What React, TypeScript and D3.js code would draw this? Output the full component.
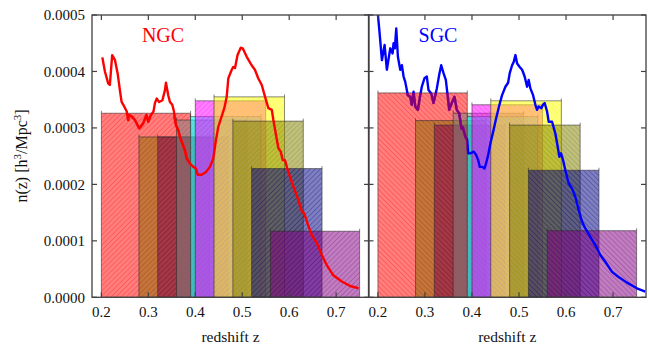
import React from "react";
import * as d3 from "d3";

// redshift bins (overlapping)
const binLo = [0.2, 0.28, 0.32, 0.36, 0.39, 0.4, 0.44, 0.48, 0.52, 0.56];
const binHi = [0.39, 0.43, 0.47, 0.51, 0.54, 0.55, 0.59, 0.63, 0.67, 0.75];
const binColors = ["#ff0000", "#8a6a00", "#80004d", "#808080", "#00ffff", "#ff00ff", "#ffff00", "#808000", "#000080", "#800080"];
// bar heights in units of 1e-4
const ngcBars = [3.26, 2.84, 2.84, 3.14, 3.2, 3.48, 3.55, 3.12, 2.28, 1.17];
const sgcBars = [3.62, 3.13, 3.05, 3.26, 3.2, 3.41, 3.48, 3.05, 2.25, 1.18];

// n(z) curves, units of 1e-4
const ngcZ = [0.202, 0.2075, 0.2145, 0.218, 0.223, 0.229, 0.2345, 0.2394, 0.243, 0.2486, 0.254, 0.257, 0.259, 0.265, 0.2714, 0.2806, 0.289, 0.296, 0.2998, 0.3055, 0.311, 0.314, 0.3177, 0.323, 0.33, 0.3354, 0.3375, 0.3424, 0.346, 0.351, 0.3546, 0.3567, 0.3588, 0.3637, 0.3674, 0.378, 0.3817, 0.3887, 0.3957, 0.4015, 0.405, 0.4136, 0.4228, 0.4313, 0.4384, 0.4435, 0.449, 0.4548, 0.4618, 0.4669, 0.4704, 0.4776, 0.481, 0.4846, 0.49, 0.4968, 0.501, 0.5096, 0.52, 0.527, 0.534, 0.5416, 0.5486, 0.5557, 0.563, 0.5663, 0.572, 0.577, 0.582, 0.5863, 0.591, 0.598, 0.609, 0.6196, 0.627, 0.6318, 0.639, 0.648, 0.659, 0.6695, 0.68, 0.694, 0.712, 0.73, 0.7476];
const ngcN = [4.25, 4.0, 3.79, 3.76, 4.29, 4.2, 3.97, 3.67, 3.46, 3.38, 3.29, 3.14, 3.23, 3.2, 3.14, 2.99, 3.08, 3.23, 3.11, 3.23, 3.29, 3.44, 3.52, 3.46, 3.49, 3.67, 3.8, 3.58, 3.46, 3.41, 3.29, 3.14, 3.05, 2.96, 2.84, 2.6, 2.46, 2.37, 2.31, 2.28, 2.17, 2.17, 2.22, 2.31, 2.46, 2.76, 3.02, 3.17, 3.35, 3.55, 3.88, 4.03, 4.08, 4.06, 4.29, 4.42, 4.41, 4.26, 4.11, 4.03, 3.88, 3.76, 3.55, 3.35, 3.32, 3.14, 2.87, 2.64, 2.58, 2.43, 2.43, 2.22, 1.96, 1.72, 1.52, 1.49, 1.31, 1.1, 0.96, 0.75, 0.57, 0.39, 0.28, 0.2, 0.16];
const sgcZ = [0.199, 0.2036, 0.2085, 0.2142, 0.219, 0.2263, 0.2312, 0.2333, 0.236, 0.239, 0.2425, 0.2475, 0.251, 0.2546, 0.258, 0.2637, 0.2688, 0.272, 0.2758, 0.2794, 0.285, 0.29, 0.2934, 0.299, 0.304, 0.3076, 0.3134, 0.3182, 0.3253, 0.3303, 0.3346, 0.3395, 0.3444, 0.3486, 0.3516, 0.357, 0.3628, 0.3677, 0.3728, 0.3777, 0.3805, 0.3862, 0.3898, 0.392, 0.3968, 0.4038, 0.4089, 0.4132, 0.4166, 0.4217, 0.4265, 0.43, 0.4344, 0.4393, 0.445, 0.4514, 0.4584, 0.464, 0.4711, 0.4768, 0.4803, 0.4853, 0.4888, 0.4924, 0.496, 0.5015, 0.5066, 0.512, 0.5172, 0.5206, 0.5242, 0.5299, 0.5348, 0.5384, 0.5418, 0.5476, 0.551, 0.5546, 0.5597, 0.5631, 0.5703, 0.5773, 0.581, 0.5858, 0.5894, 0.5936, 0.5985, 0.6055, 0.6127, 0.6197, 0.6268, 0.634, 0.641, 0.6516, 0.6658, 0.6728, 0.6834, 0.6977, 0.7117, 0.7295, 0.7507, 0.7684];
const sgcN = [5.1, 4.68, 4.2, 4.47, 4.03, 4.41, 4.32, 4.5, 4.41, 4.76, 4.26, 4.03, 4.11, 3.91, 3.82, 3.58, 3.55, 3.41, 3.64, 3.38, 3.32, 3.58, 3.73, 3.88, 3.91, 3.67, 3.61, 3.44, 3.7, 3.94, 4.11, 3.97, 3.85, 3.55, 3.32, 3.44, 3.55, 3.32, 3.26, 2.99, 3.01, 2.84, 2.79, 2.55, 2.55, 2.58, 2.52, 2.43, 2.31, 2.31, 2.28, 2.37, 2.52, 2.73, 2.93, 3.17, 3.41, 3.58, 3.73, 3.8, 3.97, 4.11, 4.17, 4.29, 4.14, 4.08, 4.03, 3.91, 3.73, 3.85, 3.7, 3.58, 3.41, 3.32, 3.38, 3.35, 3.41, 3.44, 3.29, 3.11, 3.11, 2.9, 2.73, 2.49, 2.55, 2.43, 2.25, 2.02, 1.93, 1.78, 1.55, 1.34, 1.22, 1.07, 0.87, 0.75, 0.63, 0.45, 0.36, 0.26, 0.16, 0.1];

const xTicks = [0.2, 0.3, 0.4, 0.5, 0.6, 0.7];
const yTicks = [0, 0.0001, 0.0002, 0.0003, 0.0004, 0.0005];
const yTickLabels = ["0.0000", "0.0001", "0.0002", "0.0003", "0.0004", "0.0005"];

const FONT = '"Liberation Serif", "DejaVu Serif", serif';
const TOP = 15;
const BOTTOM = 297.3;

export default function App() {
  const y = d3.scaleLinear().domain([0, 0.0005]).range([BOTTOM, TOP]);
  const panels = [
    { key: "ngc", x0: 92, x1: 369, bars: ngcBars, zs: ngcZ, ns: ngcN, color: "#ff0000", label: "NGC", labelX: 163, rot: 45, yLabels: true },
    { key: "sgc", x0: 368.5, x1: 646, bars: sgcBars, zs: sgcZ, ns: sgcN, color: "#0000ff", label: "SGC", labelX: 438, rot: -45, yLabels: false },
  ];
  const frame = "#404040";
  const tickLen = 5;
  const txt = { fontFamily: FONT };

  return (
    <svg width={649} height={346} style={{ position: "absolute", left: 0, top: 0, background: "#fff", fontFamily: FONT }}>
      <defs>
        {panels.map((p) => {
          const x = d3.scaleLinear().domain([0.18, 0.77]).range([p.x0, p.x1]);
          const bx = x(binLo[0]);
          const by = y(p.bars[0] * 1e-4);
          return (
            <g key={p.key}>
              <clipPath id={`clip-${p.key}`}>
                <rect x={p.x0} y={TOP} width={p.x1 - p.x0} height={BOTTOM - TOP} />
              </clipPath>
              <clipPath id={`clipbar-${p.key}`}>
                <rect x={bx} y={by} width={x(binHi[0]) - bx} height={BOTTOM - by} />
              </clipPath>
            </g>
          );
        })}
        {panels.map((p) =>
          binColors.map((c, i) => (
            <pattern key={`${p.key}-${i}`} id={`hatch-${p.key}-${i}`} patternUnits="userSpaceOnUse" width={3.6} height={3.6} patternTransform={`rotate(${p.rot})`}>
              <line x1={0} y1={0} x2={0} y2={3.6} stroke={c} strokeWidth={0.9} strokeOpacity={0.6} />
            </pattern>
          ))
        )}
      </defs>
      {panels.map((p) => {
        const x = d3.scaleLinear().domain([0.18, 0.77]).range([p.x0, p.x1]);
        const pts: [number, number][] = p.zs.map((z, i) => [z, p.ns[i] * 1e-4]);
        const line = d3.line<[number, number]>().x((d) => x(d[0])).y((d) => y(d[1]));
        const d = line(pts) || "";
        const cx = (p.x0 + p.x1) / 2;
        return (
          <g key={p.key}>
            <g clipPath={`url(#clip-${p.key})`}>
              {p.bars.map((h, i) => {
                const bx = x(binLo[i]);
                const bw = x(binHi[i]) - bx;
                const by = y(h * 1e-4);
                const bh = BOTTOM - by;
                return (
                  <g key={i}>
                    <rect x={bx} y={by} width={bw} height={bh} fill={binColors[i]} fillOpacity={0.5} />
                    <rect x={bx} y={by} width={bw} height={bh} fill={`url(#hatch-${p.key}-${i})`} stroke="rgba(40,40,40,0.55)" strokeWidth={1} />
                    <line x1={bx} x2={bx} y1={by - 2.5} y2={by} stroke="rgba(40,40,40,0.55)" strokeWidth={1} />
                    <line x1={bx + bw} x2={bx + bw} y1={by - 2.5} y2={by} stroke="rgba(40,40,40,0.55)" strokeWidth={1} />
                  </g>
                );
              })}
              <path d={d} fill="none" stroke={p.color} strokeWidth={2.4} strokeLinejoin="round" />
              {/* first (red) bin lies over the curve */}
              <g clipPath={`url(#clipbar-${p.key})`}>
                <path d={d} fill="none" stroke={binColors[0]} strokeOpacity={0.5} strokeWidth={2.6} strokeLinejoin="round" />
              </g>
            </g>
            <rect x={p.x0} y={TOP} width={p.x1 - p.x0} height={BOTTOM - TOP} fill="none" stroke={frame} strokeWidth={1.3} />
            {xTicks.map((t) => (
              <g key={t}>
                <line x1={x(t)} x2={x(t)} y1={BOTTOM} y2={BOTTOM - tickLen} stroke={frame} strokeWidth={1.2} />
                <line x1={x(t)} x2={x(t)} y1={TOP} y2={TOP + tickLen} stroke={frame} strokeWidth={1.2} />
                <text x={x(t)} y={317} textAnchor="middle" fontSize={15} fill="#111" style={txt}>
                  {t.toFixed(1)}
                </text>
              </g>
            ))}
            {yTicks.map((t, i) => (
              <g key={t}>
                <line x1={p.x0} x2={p.x0 + tickLen} y1={y(t)} y2={y(t)} stroke={frame} strokeWidth={1.2} />
                <line x1={p.x1} x2={p.x1 - tickLen} y1={y(t)} y2={y(t)} stroke={frame} strokeWidth={1.2} />
                {p.yLabels && (
                  <text x={85} y={y(t)} dy="0.35em" textAnchor="end" fontSize={15} fill="#111" style={txt}>
                    {yTickLabels[i]}
                  </text>
                )}
              </g>
            ))}
            <text x={cx} y={342} textAnchor="middle" fontSize={15.5} fill="#111" style={txt}>
              redshift z
            </text>
            <text x={p.labelX} y={42} textAnchor="middle" fontSize={20} fill={p.color} style={txt}>
              {p.label}
            </text>
          </g>
        );
      })}
      <text transform="translate(27,156) rotate(-90)" textAnchor="middle" fontSize={16} fill="#111" style={txt}>
        n(z) [h
        <tspan fontSize={11} dy={-6}>3</tspan>
        <tspan dy={6}>/Mpc</tspan>
        <tspan fontSize={11} dy={-6}>3</tspan>
        <tspan dy={6}>]</tspan>
      </text>
    </svg>
  );
}
